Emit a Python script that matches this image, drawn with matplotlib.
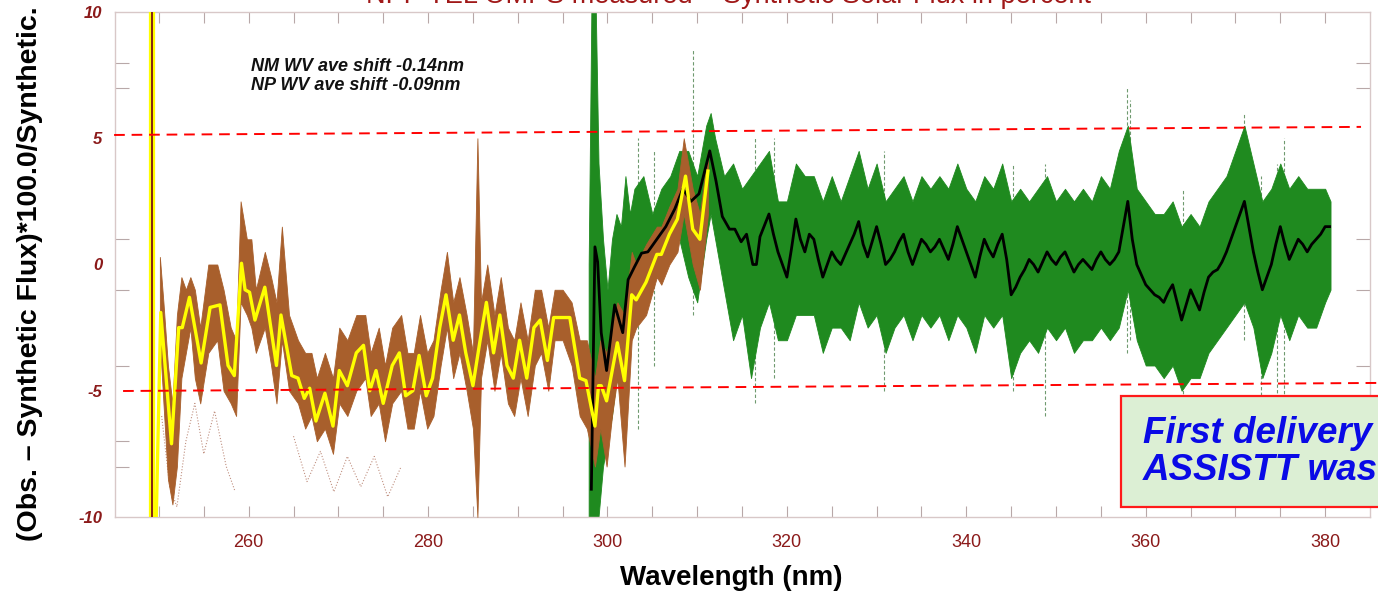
import matplotlib
matplotlib.use("Agg")
import matplotlib.pyplot as plt
from matplotlib.patches import Rectangle

plt.rcParams['font.family'] = ['Liberation Sans', 'DejaVu Sans']

# ---------------- data ----------------
# NM smoothed ratio (yellow)
nm_x = [249.7, 250.2, 251.4, 252.2, 252.6, 253.4, 254.7, 255.7, 256.8, 257.7, 258.4, 259.2, 259.6,
        260.1, 260.7, 261.8, 263.1, 263.6, 264.8, 265.5, 266.2, 266.8, 267.5, 268.5, 269.4, 270.1,
        271.0, 272.0, 272.8, 273.5, 274.2, 275.0, 276.0, 276.8, 277.5, 278.3, 279.0, 279.8, 280.5,
        281.3, 282.0, 282.8, 283.5, 284.2, 285.0, 285.8, 286.5, 287.3, 288.0, 288.8, 289.5, 290.2,
        291.0, 291.8, 292.5, 293.3, 294.0, 294.7, 295.8, 296.9, 297.6, 298.6, 299.0, 299.3, 299.9,
        301.1, 301.9, 302.7, 303.2, 304.3, 305.5, 306.0, 306.9, 307.8, 308.7, 309.5, 310.3, 311.2]
nm_y = [-10.0, -1.9, -7.1, -2.5, -2.5, -1.3, -3.9, -1.7, -1.6, -4.0, -4.4, 0.05, -1.0,
        -1.1, -2.2, -0.9, -4.0, -2.0, -4.4, -4.5, -5.3, -4.9, -6.2, -5.1, -6.4, -4.2,
        -4.8, -3.5, -3.2, -5.0, -4.2, -5.5, -4.0, -3.5, -5.2, -5.0, -3.6, -5.2, -4.5,
        -2.5, -1.2, -3.0, -2.0, -3.5, -4.8, -3.0, -1.5, -3.5, -2.0, -4.0, -4.5, -3.0,
        -4.5, -2.5, -2.2, -3.8, -2.1, -2.1, -2.1, -4.5, -4.6, -6.4, -4.8, -4.8, -5.4,
        -3.1, -4.6, -1.2, -1.4, -0.7, 0.4, 0.4, 1.2, 1.8, 3.5, 1.4, 1.0, 3.7]

# NM scatter cloud envelope (brown)
nm_env_x = [250.1, 250.5, 251.0, 251.5, 252.0, 252.5, 253.0, 253.5, 254.0, 254.6, 255.5, 256.5, 257.2,
            258.0, 258.6, 259.1, 259.8, 260.3, 260.8, 261.8, 262.5, 263.1, 263.7, 264.5, 265.5, 266.3,
            267.0, 267.6, 268.5, 269.4, 270.1, 271.0, 272.0, 273.0, 273.6, 274.5, 275.2, 276.0, 277.0,
            277.7, 278.4, 279.1, 279.9, 280.6, 281.4, 282.1, 282.8, 283.5, 284.3, 285.0, 285.5, 285.9,
            286.6, 287.4, 288.1, 288.9, 289.6, 290.3, 291.1, 291.9, 292.6, 293.4, 294.1, 295.0, 296.0,
            296.9, 297.7, 298.6, 299.2, 299.9, 300.5, 301.1, 301.9, 302.7, 303.2, 304.3, 305.5, 306.0,
            306.9, 307.8, 308.5, 309.5, 310.3, 311.2]
nm_env_hi = [0.3, -1.5, -4.0, -5.5, -2.0, -0.5, -1.0, -0.5, -1.0, -2.5, 0.0, 0.0, -1.0,
             -2.5, -3.0, 2.5, 1.0, 1.0, -1.0, 0.5, -0.5, -1.5, 1.5, -2.0, -3.0, -3.5,
             -3.5, -4.5, -3.5, -4.5, -2.5, -3.0, -2.0, -2.0, -3.5, -2.5, -4.0, -2.5, -2.0,
             -3.5, -3.5, -2.0, -3.5, -3.0, -1.0, 0.5, -1.5, -0.5, -2.0, -3.5, 5.0, -1.5,
             0.0, -2.0, -0.5, -2.5, -3.0, -1.5, -3.0, -1.0, -1.0, -2.5, -1.0, -1.0, -1.5,
             -3.0, -3.0, -4.5, -3.0, -3.5, -2.5, -1.5, -2.0, 0.5, 0.0, 0.8, 1.5, 1.5,
             2.3, 3.0, 5.0, 3.0, 2.0, 4.5]
nm_env_lo = [-3.0, -5.5, -8.5, -9.5, -8.0, -4.5, -3.5, -2.5, -4.5, -5.5, -3.5, -3.0, -5.0,
             -5.5, -6.0, -1.5, -2.0, -2.5, -3.5, -2.5, -4.0, -5.5, -3.0, -5.0, -5.5, -6.5,
             -6.0, -7.0, -6.5, -7.5, -5.5, -6.0, -5.0, -4.5, -6.0, -5.5, -7.0, -5.5, -5.0,
             -6.5, -6.5, -5.0, -6.5, -6.0, -4.0, -2.5, -4.5, -3.5, -5.0, -6.5, -10.0, -4.5,
             -3.0, -5.0, -3.5, -5.5, -6.0, -4.5, -6.0, -4.0, -3.5, -5.0, -3.0, -3.0, -4.0,
             -6.0, -6.5, -8.0, -6.5, -8.0, -6.0, -4.5, -8.0, -3.0, -2.5, -2.0, -0.5, -0.8,
             0.0, 0.5, 2.0, 0.0, -1.0, 2.0]

# NM faint outlier tracks (dotted brown)
nm_out1_x = [250.3, 251.2, 252.0, 253.0, 254.0, 255.0, 256.2, 257.5, 258.5]
nm_out1_y = [-6.0, -8.8, -9.6, -7.0, -5.5, -7.5, -5.8, -8.0, -9.0]
nm_out2_x = [265.0, 266.5, 268.0, 269.5, 271.0, 272.5, 274.0, 275.5, 277.0]
nm_out2_y = [-6.8, -8.6, -7.4, -9.0, -7.6, -8.8, -7.6, -9.2, -8.0]

# NP smoothed ratio (black)
np_x = [298.2, 298.6, 298.9, 299.3, 299.9, 300.8, 301.7, 302.3, 303.0, 303.8, 304.5, 305.5, 306.5,
        307.5, 308.4, 309.3, 310.2, 311.4, 312.1, 312.8, 313.6, 314.2, 314.9, 315.5, 316.2, 316.6,
        317.0, 318.0, 318.5, 319.0, 319.5, 320.0, 320.5, 321.0, 321.5, 322.0, 322.5, 323.0, 323.5,
        324.0, 324.5, 325.0, 325.5, 326.0, 326.5, 327.0, 327.5, 328.0, 328.5, 329.0, 329.5, 330.0,
        330.5, 331.0, 331.5, 332.0, 332.5, 333.0, 333.5, 334.0, 334.5, 335.0, 335.5, 336.0, 336.5,
        337.0, 337.5, 338.0, 338.5, 339.0, 339.5, 340.0, 340.5, 341.0, 341.5, 342.0, 342.5, 343.0,
        343.5, 344.0, 344.5, 345.0, 345.5, 346.0, 346.5, 347.0, 347.5, 348.0, 348.5, 349.0, 349.5,
        350.0, 350.5, 351.0, 351.5, 352.0, 352.5, 353.0, 353.5, 354.0, 354.5, 355.0, 355.5, 356.0,
        356.5, 357.0, 357.5, 358.0, 358.5, 359.0, 359.5, 360.0, 360.5, 361.0, 361.5, 362.0, 362.5,
        363.0, 363.5, 364.0, 364.5, 365.0, 365.5, 366.0, 366.5, 367.0, 367.5, 368.0, 368.5, 369.0,
        369.5, 370.0, 370.5, 371.0, 371.5, 372.0, 372.5, 373.0, 373.5, 374.0, 374.5, 375.0, 375.5,
        376.0, 376.5, 377.0, 377.5, 378.0, 378.5, 379.0, 379.5, 380.0, 380.5]
np_y = [-8.9, 0.7, 0.1, -2.7, -4.2, -1.6, -2.7, -0.6, -0.1, 0.45, 0.5, 1.0, 1.5,
        2.2, 3.0, 2.5, 2.8, 4.5, 3.3, 1.9, 1.4, 1.4, 0.9, 1.2, 0.0, 0.0,
        1.1, 2.0, 1.2, 0.5, 0.0, -0.5, 0.6, 1.8, 1.0, 0.5, 1.2, 1.0, 0.2,
        -0.5, 0.0, 0.5, 0.2, 0.0, 0.4, 0.8, 1.2, 1.7, 0.8, 0.3, 0.9, 1.5,
        0.8, 0.0, 0.2, 0.5, 0.9, 1.2, 0.5, 0.0, 0.5, 1.0, 0.8, 0.5, 0.7,
        1.0, 0.6, 0.2, 0.8, 1.5, 1.0, 0.5, 0.0, -0.5, 0.3, 1.0, 0.6, 0.3,
        0.8, 1.2, 0.2, -1.2, -0.9, -0.5, -0.2, 0.2, 0.0, -0.3, 0.1, 0.5, 0.2,
        0.0, 0.3, 0.5, 0.1, -0.3, 0.0, 0.2, 0.0, -0.2, 0.2, 0.5, 0.2, 0.0,
        0.2, 0.5, 1.5, 2.5, 1.0, 0.0, -0.4, -0.8, -1.0, -1.2, -1.3, -1.5, -1.1,
        -0.8, -1.5, -2.2, -1.6, -1.0, -1.4, -1.8, -1.1, -0.5, -0.3, -0.2, 0.1, 0.5,
        1.0, 1.5, 2.0, 2.5, 1.5, 0.5, -0.3, -1.0, -0.5, 0.0, 0.8, 1.5, 0.8,
        0.2, 0.6, 1.0, 0.8, 0.5, 0.8, 1.0, 1.2, 1.5, 1.5]

# NP scatter cloud envelope (green)
np_env_x = [297.9, 298.2, 298.7, 299.0, 299.5, 300.0, 300.5, 301.0, 301.5, 302.0, 302.5, 303.0, 304.0,
            305.0, 306.0, 307.0, 308.0, 309.0, 310.0, 311.0, 311.5, 312.0, 313.0, 314.0, 315.0, 316.0,
            317.0, 318.0, 319.0, 320.0, 321.0, 322.0, 323.0, 324.0, 325.0, 326.0, 327.0, 328.0, 329.0,
            330.0, 331.0, 332.0, 333.0, 334.0, 335.0, 336.0, 337.0, 338.0, 339.0, 340.0, 341.0, 342.0,
            343.0, 344.0, 345.0, 346.0, 347.0, 348.0, 349.0, 350.0, 351.0, 352.0, 353.0, 354.0, 355.0,
            356.0, 357.0, 358.0, 359.0, 360.0, 361.0, 362.0, 363.0, 364.0, 365.0, 366.0, 367.0, 368.0,
            369.0, 370.0, 371.0, 372.0, 373.0, 374.0, 375.0, 376.0, 377.0, 378.0, 379.0, 380.0, 380.6]
np_env_hi = [0.0, 10.0, 10.0, 4.0, 1.0, -1.0, 1.0, 2.0, 1.5, 3.5, 2.0, 3.0, 3.5,
             2.0, 3.0, 3.5, 4.5, 4.5, 3.5, 5.5, 6.0, 5.0, 3.5, 4.0, 3.0, 3.5,
             4.0, 4.5, 2.5, 2.5, 4.0, 3.5, 3.5, 2.5, 3.5, 2.5, 3.5, 4.5, 3.0,
             4.0, 2.5, 3.0, 3.5, 2.5, 3.5, 3.0, 3.5, 3.0, 4.0, 3.0, 2.5, 3.5,
             3.0, 4.0, 2.5, 3.0, 2.5, 3.0, 3.5, 2.5, 3.0, 2.5, 3.0, 2.5, 3.5,
             3.0, 4.5, 5.5, 3.0, 2.5, 2.0, 2.0, 2.5, 1.5, 2.0, 1.5, 2.5, 3.0,
             3.5, 4.5, 5.5, 4.0, 2.5, 3.0, 4.0, 3.0, 3.5, 3.0, 3.0, 3.0, 2.5]
np_env_lo = [-10.0, -10.0, -10.0, -10.0, -8.0, -7.0, -6.0, -4.5, -5.0, -3.0, -2.5, -1.5, -1.0,
             -0.5, 0.0, 0.5, 1.0, -0.5, -1.5, 1.0, 2.0, 1.0, -1.0, -3.0, -2.0, -4.5,
             -2.5, -1.5, -3.0, -3.0, -2.0, -2.0, -2.0, -3.5, -2.5, -2.5, -3.0, -1.5, -2.5,
             -2.0, -3.5, -2.5, -2.0, -3.0, -2.0, -2.5, -2.0, -3.0, -2.0, -2.5, -3.5, -2.0,
             -2.5, -2.0, -4.5, -3.5, -3.0, -3.5, -2.5, -3.0, -2.5, -3.5, -3.0, -3.0, -2.5,
             -3.0, -2.5, -1.0, -3.0, -4.0, -4.0, -4.5, -4.0, -5.0, -4.5, -4.5, -3.5, -3.0,
             -2.5, -2.0, -1.5, -2.5, -4.5, -3.5, -2.0, -3.0, -2.0, -2.5, -2.5, -1.5, -1.0]

# NP faint outlier spikes (thin green-grey)
np_spike_x = [303.4, 305.2, 309.5, 316.4, 318.6, 330.8, 345.2, 348.8, 357.9, 358.3, 364.2, 370.9, 372.9, 374.6, 375.4]
np_spike_lo = [-6.5, -4.0, -2.0, -5.5, -4.5, -5.0, -5.0, -6.0, -3.5, -3.0, -6.0, -3.0, -7.4, -9.5, -6.0]
np_spike_hi = [5.0, 4.5, 8.5, 5.0, 5.0, 4.5, 4.0, 4.0, 7.0, 6.5, 3.0, 6.0, 3.5, 4.0, 5.0]

# +/-5 % reference lines (red dashed)
upper_ref_x = [245.0, 384.0]
upper_ref_y = [5.13, 5.45]
lower_ref_x = [246.0, 386.0]
lower_ref_y = [-5.01, -4.69]

cutoff_wl = 249.2

x_major = [260, 280, 300, 320, 340, 360, 380]
x_minor = [250, 255, 265, 270, 275, 285, 290, 295, 305, 310, 315, 325, 330, 335, 345, 350, 355,
           365, 370, 375]
y_major = [10, 5, 0, -5, -10]
y_minor = [8, 7, 1, -1, -4, -7, -8]

title_text = "NPP TEL OMPS measured \u2013 Synthetic Solar Flux in percent"
ylabel_text = "(Obs. \u2013 Synthetic Flux)*100.0/Synthetic."
xlabel_text = "Wavelength (nm)"
note_lines = ["NM WV ave shift -0.14nm", "NP WV ave shift -0.09nm"]
box_lines = ["First delivery", "ASSISTT was"]

# ---------------- figure ----------------
W, H = 1378, 596
fig = plt.figure(figsize=(W / 100, H / 100), dpi=100)
ax = fig.add_axes([115 / W, 1 - 517 / H, (1370 - 115) / W, (517 - 12) / H])

dark_red = '#8b1a1a'
green = '#1f8a1f'
brown = '#a85f2c'

ax.vlines(np_spike_x, np_spike_lo, np_spike_hi, colors='#6f9a6f', lw=0.8, linestyles=(0, (3, 2)), zorder=1)
ax.fill_between(np_env_x, np_env_lo, np_env_hi, color=green, lw=0.6, edgecolor=green, zorder=2)
ax.plot(nm_out1_x, nm_out1_y, color='#c09080', lw=0.8, ls=':', zorder=2)
ax.plot(nm_out2_x, nm_out2_y, color='#c09080', lw=0.8, ls=':', zorder=2)
ax.fill_between(nm_env_x, nm_env_lo, nm_env_hi, color=brown, lw=0.6, edgecolor=brown, zorder=3)
ax.plot(np_x, np_y, color='black', lw=2.0, zorder=4)
ax.plot(nm_x, nm_y, color='#ffff00', lw=2.4, zorder=5)

ax.axvline(cutoff_wl, color='#ffff00', lw=4.5, zorder=6)
ax.axvline(cutoff_wl, color='#7a1414', lw=1.3, zorder=7)

ax.plot(upper_ref_x, upper_ref_y, color='#ff0000', lw=1.4, ls=(0, (5.5, 3.5)), zorder=8, clip_on=False)
ax.plot(lower_ref_x, lower_ref_y, color='#ff0000', lw=1.4, ls=(0, (5.5, 3.5)), zorder=8, clip_on=False)

ax.set_xlim(245.1, 385.0)
ax.set_ylim(-10, 10)

ax.set_xticks(x_major)
ax.set_xticks(x_minor, minor=True)
ax.set_xticklabels([str(v) for v in x_major])
ax.set_yticks(y_major)
ax.set_yticks(y_minor, minor=True)
ax.set_yticklabels([str(v) for v in y_major])

tick_c = '#b8a8a8'
ax.tick_params(axis='x', which='both', direction='in', length=8, width=0.8, color=tick_c,
               top=True, bottom=True, labelsize=13, labelcolor=dark_red, pad=12)
ax.tick_params(axis='y', which='major', direction='in', length=0, color=tick_c,
               labelsize=12, labelcolor=dark_red, pad=9, left=True, right=False)
ax.tick_params(axis='y', which='minor', direction='in', length=10, width=0.8, color=tick_c,
               left=True, right=True)
for lab in ax.get_yticklabels():
    lab.set_fontweight('bold')
    lab.set_fontstyle('italic')

for s in ax.spines.values():
    s.set_color('#d8c8c8')
    s.set_linewidth(1.0)

# notes
for i, t in enumerate(note_lines):
    ax.text(260.3, 7.65 - i * 0.75, t, fontsize=13, fontweight='bold', fontstyle='italic',
            color='#111111', va='baseline', ha='left', zorder=9)

# labels
fig.text(728 / W, 1 - 3 / H, title_text, fontsize=19.5, color='#a01818', ha='center', va='baseline')
fig.text(30 / W, 1 - 274 / H, ylabel_text, fontsize=20.5, fontweight='bold', rotation=90,
         ha='center', va='center', color='black')
fig.text(731 / W, 1 - 578 / H, xlabel_text, fontsize=20, fontweight='bold', ha='center',
         va='center', color='black')

# green box
fig.patches.append(Rectangle((1121 / W, 1 - 507 / H), 300 / W, 111 / H, transform=fig.transFigure,
                             facecolor='#dcefd4', edgecolor='#ff1a1a', lw=1.6, zorder=10))
for i, t in enumerate(box_lines):
    fig.text(1143 / W, 1 - (443 + 37 * i) / H, t, fontsize=26.5, fontweight='bold', fontstyle='italic',
             color='#0a0ae6', ha='left', va='baseline', zorder=11)

fig.savefig('out.png', dpi=100)
